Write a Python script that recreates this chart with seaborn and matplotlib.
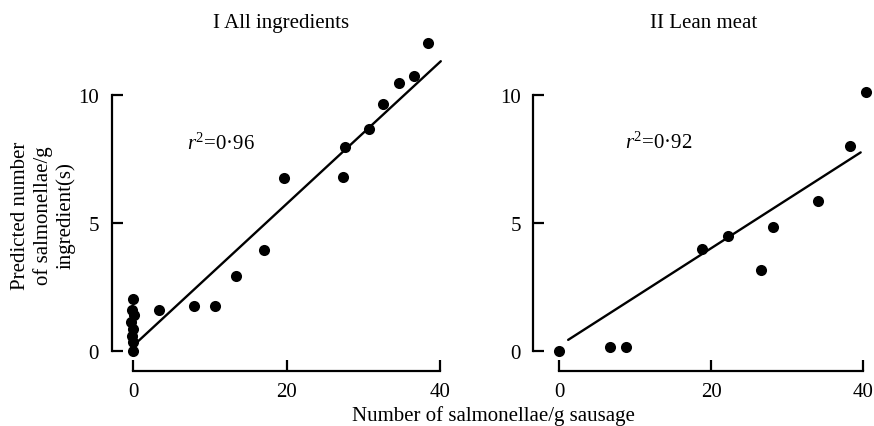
import matplotlib
matplotlib.use("Agg")
import matplotlib.pyplot as plt
import seaborn as sns
import pandas as pd

# ---- data ----
all_x = [-0.1, -0.2, 0.1, -0.3, 0.0, -0.2, 0.0, 0.0,
         3.3, 7.9, 10.6, 13.4, 17.1, 19.7, 27.3, 27.6, 30.8, 32.6, 34.7, 36.65, 38.4]
all_y = [2.05, 1.6, 1.43, 1.14, 0.88, 0.62, 0.36, 0.0,
         1.63, 1.75, 1.78, 2.93, 3.96, 6.77, 6.81, 7.96, 8.68, 9.64, 10.44, 10.71, 12.0]
all_fit_x = [0.5, 40.1]
all_fit_y = [0.36, 11.3]

lean_x = [0.0, 6.75, 8.8, 18.8, 22.2, 26.5, 28.1, 34.0, 38.2, 40.3]
lean_y = [0.0, 0.17, 0.16, 3.99, 4.5, 3.19, 4.86, 5.84, 8.0, 10.1]
lean_fit_x = [1.2, 39.65]
lean_fit_y = [0.45, 7.75]

titles = ["I All ingredients", "II Lean meat"]
r2_labels = [r"$r^{2}$=0·96", r"$r^{2}$=0·92"]
x_ticks = [0, 20, 40]
y_ticks = [0, 5, 10]
ylabel = "Predicted number\nof salmonellae/g\ningredient(s)"
xlabel = "Number of salmonellae/g sausage"

# ---- style ----
sns.set_theme(style="white")
plt.rcParams["font.family"] = ["Liberation Serif", "DejaVu Serif"]
plt.rcParams["mathtext.fontset"] = "custom"
plt.rcParams["mathtext.rm"] = "Liberation Serif"
plt.rcParams["mathtext.it"] = "Liberation Serif:italic"
plt.rcParams["mathtext.bf"] = "Liberation Serif:bold"

FS = 15
W, H = 874, 427
fig = plt.figure(figsize=(W / 100, H / 100), dpi=100)

def px_axes(left, right, top, bottom):
    return fig.add_axes([left / W, (H - bottom) / H, (right - left) / W, (bottom - top) / H])

ax1 = px_axes(111.5, 450, 35, 371.7)
ax2 = px_axes(533.3, 874, 35, 371.7)

panels = [
    (ax1, all_x, all_y, all_fit_x, all_fit_y, (-2.84, 41.3), (7.0, 8.1)),
    (ax2, lean_x, lean_y, lean_fit_x, lean_fit_y, (-3.38, 41.4), (8.7, 8.15)),
]

for i, (ax, xs, ys, fx, fy, xlim, r2pos) in enumerate(panels):
    df = pd.DataFrame({"x": xs, "y": ys})
    sns.scatterplot(data=df, x="x", y="y", ax=ax, color="black", s=64,
                    linewidth=0, zorder=3, clip_on=False)
    fit = pd.DataFrame({"x": fx, "y": fy})
    sns.lineplot(data=fit, x="x", y="y", ax=ax, color="black", linewidth=1.7)
    ax.set_xlim(*xlim)
    ax.set_ylim(-0.75, 12.36)
    ax.set_xticks(x_ticks)
    ax.set_yticks(y_ticks)
    ax.set_xticklabels([str(t) for t in x_ticks])
    ax.set_yticklabels([str(t) for t in y_ticks])
    ax.set_xlabel("")
    ax.set_ylabel("")
    for side in ["top", "right"]:
        ax.spines[side].set_visible(False)
    for side in ["left", "bottom"]:
        ax.spines[side].set_linewidth(1.6)
        ax.spines[side].set_color("black")
    ax.spines["left"].set_bounds(0, 10)
    ax.spines["bottom"].set_bounds(0, 40)
    ax.tick_params(axis="both", which="major", direction="in", length=8,
                   width=1.6, colors="black", labelsize=FS, pad=8,
                   bottom=True, left=True, top=False, right=False)
    ax.tick_params(axis="y", pad=9)
    ax.set_title(titles[i], fontsize=FS, pad=5, color="black")
    ax.text(r2pos[0], r2pos[1], r2_labels[i], fontsize=FS, ha="left",
            va="center", color="black")
    ax.patch.set_alpha(0)

fig.text(43 / W, 1 - 216 / H, ylabel, rotation=90, ha="center", va="center",
         multialignment="center", fontsize=FS, linespacing=1.2, color="black")
fig.text(493 / W, 6 / H, xlabel, ha="center", va="baseline", fontsize=FS,
         color="black")

fig.savefig("out.png", dpi=100)
